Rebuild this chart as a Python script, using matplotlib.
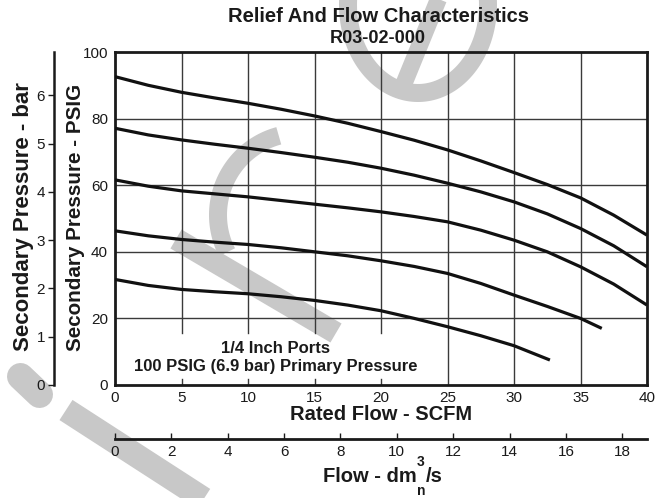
import matplotlib
matplotlib.use('Agg')
import matplotlib.pyplot as plt
import numpy as np

plt.rcParams['font.family'] = ['Liberation Sans', 'DejaVu Sans']

# ---------------- data ----------------
title = 'Relief And Flow Characteristics'
subtitle = 'R03-02-000'
x_label = 'Rated Flow - SCFM'
x2_label_main = 'Flow - dm'
x2_label_sup = '3'
x2_label_sub = 'n'
x2_label_tail = '/s'
y_label = 'Secondary Pressure - PSIG'
y2_label = 'Secondary Pressure - bar'
note_lines = ['1/4 Inch Ports', '100 PSIG (6.9 bar) Primary Pressure']

x_ticks = [0, 5, 10, 15, 20, 25, 30, 35, 40]
y_ticks = [0, 20, 40, 60, 80, 100]
bar_ticks = [0, 1, 2, 3, 4, 5, 6]
dm3_ticks = [0, 2, 4, 6, 8, 10, 12, 14, 16, 18]
psi_per_bar = 14.5038
dm3s_per_scfm = 0.4719

flow_a = [0, 2.5, 5, 7.5, 10, 12.5, 15, 17.5, 20, 22.5, 25, 27.5, 30, 32.5, 35, 37.5, 40]
curve1 = [92.6, 90.0, 87.9, 86.2, 84.6, 82.8, 80.8, 78.6, 76.1, 73.5, 70.6, 67.3, 63.8, 60.2, 56.2, 51.0, 45.0]
curve2 = [77.1, 75.1, 73.6, 72.3, 71.1, 69.8, 68.4, 66.9, 65.1, 63.0, 60.6, 58.0, 55.0, 51.4, 47.0, 41.8, 35.5]
curve3 = [61.6, 59.7, 58.3, 57.4, 56.5, 55.4, 54.3, 53.2, 52.0, 50.6, 49.0, 46.5, 43.5, 40.0, 35.5, 30.3, 24.0]

flow_b = [0, 2.5, 5, 7.5, 10, 12.5, 15, 17.5, 20, 22.5, 25, 27.5, 30, 32.5, 35, 36.6]
curve4 = [46.3, 44.8, 43.7, 42.9, 42.2, 41.2, 40.0, 38.8, 37.3, 35.6, 33.5, 30.5, 27.0, 23.6, 20.0, 17.0]

flow_c = [0, 2.5, 5, 7.5, 10, 12.5, 15, 17.5, 20, 22.5, 25, 27.5, 30, 32.7]
curve5 = [31.7, 29.9, 28.7, 28.0, 27.4, 26.5, 25.4, 24.0, 22.3, 20.0, 17.5, 14.8, 11.8, 7.5]

# ---------------- figure ----------------
W, H = 662, 498
fig = plt.figure(figsize=(W / 100, H / 100), dpi=100)
fig.patch.set_facecolor('white')
ink = '#1a1a1a'


def fx(px):
    return px / W


def fy(py):
    return 1 - py / H


PX = 0.72  # points per pixel

# decorative gray watermark (pixel space, behind everything)
wm = fig.add_axes([0, 0, 1, 1], zorder=-1)
wm.set_xlim(0, W)
wm.set_ylim(H, 0)
wm.axis('off')
gray = '#c8c8c8'
t = np.radians(np.linspace(-40, 195, 120))
wm.plot(418 + 70 * np.cos(t), 5 + 88 * np.sin(t), color=gray, lw=18 * PX, solid_capstyle='butt')
wm.plot([403, 443], [86, -12], color=gray, lw=17 * PX, solid_capstyle='butt')
a = np.radians(np.linspace(105, 207, 60))
wm.plot(300 + 82 * np.cos(a), 215 - 82 * np.sin(a), color=gray, lw=18 * PX, solid_capstyle='butt')
wm.plot([176, 336], [239, 333], color=gray, lw=22 * PX, solid_capstyle='butt')
wm.plot([66, 230], [410, 516], color=gray, lw=24 * PX, solid_capstyle='butt')
wm.plot([20.5, 39.5], [376.5, 394.5], color=gray, lw=27 * PX, solid_capstyle='round')

# main axes
ax_l, ax_r, ax_t, ax_b = 115, 647, 52, 385
ax = fig.add_axes([fx(ax_l), fy(ax_b), fx(ax_r) - fx(ax_l), fy(ax_t) - fy(ax_b)], zorder=1)
ax.set_facecolor('none')
ax.set_xlim(x_ticks[0], x_ticks[-1])
ax.set_ylim(y_ticks[0], y_ticks[-1])
ax.set_xticks(x_ticks)
ax.set_yticks(y_ticks)
ax.tick_params(length=0, labelsize=11, colors=ink)
ax.tick_params(axis='x', pad=4)
ax.tick_params(axis='y', pad=5)
for s in ax.spines.values():
    s.set_linewidth(2.0)
    s.set_color(ink)

grid_c = '#3a3a3a'
for yv in y_ticks[1:-1]:
    ax.axhline(yv, color=grid_c, lw=1.0, zorder=1)
gap_lo, gap_hi = 1.8, 15.6
for xv in x_ticks[1:-1]:
    if xv <= 20:
        ax.plot([xv, xv], [gap_hi, 100], color=grid_c, lw=1.0, zorder=1)
        ax.plot([xv, xv], [0, gap_lo], color=grid_c, lw=1.0, zorder=1)
    else:
        ax.axvline(xv, color=grid_c, lw=1.0, zorder=1)

for xs, ys in [(flow_a, curve1), (flow_a, curve2), (flow_a, curve3), (flow_b, curve4), (flow_c, curve5)]:
    ax.plot(xs, ys, color='#111111', lw=2.3, solid_capstyle='butt', zorder=3)

ax.text(12.1, 11.1, note_lines[0], ha='center', va='center', fontsize=12, fontweight='bold', color=ink)
ax.text(12.1, 5.7, note_lines[1], ha='center', va='center', fontsize=12, fontweight='bold', color=ink)

# bar axis
bax = fig.add_axes([fx(54), fy(ax_b), 0.0005, fy(ax_t) - fy(ax_b)], zorder=1)
bax.set_facecolor('none')
for k in ['top', 'right', 'bottom']:
    bax.spines[k].set_visible(False)
bax.spines['left'].set_linewidth(1.8)
bax.spines['left'].set_color(ink)
bax.set_ylim(0, y_ticks[-1] / psi_per_bar)
bax.set_yticks(bar_ticks)
bax.set_xticks([])
bax.tick_params(axis='y', direction='out', length=4.5, width=1.0, pad=2, labelsize=11, colors=ink)

# dm3/s axis
dax = fig.add_axes([fx(ax_l), fy(439), fx(ax_r) - fx(ax_l), 0.0005], zorder=1)
dax.set_facecolor('none')
for k in ['top', 'right', 'left']:
    dax.spines[k].set_visible(False)
dax.spines['bottom'].set_linewidth(2.0)
dax.spines['bottom'].set_color(ink)
dax.set_xlim(0, x_ticks[-1] * dm3s_per_scfm)
dax.set_xticks(dm3_ticks)
dax.set_yticks([])
dax.tick_params(axis='x', direction='in', length=4.5, width=1.0, pad=4, labelsize=11, colors=ink)

# texts
bold = dict(fontweight='bold', color=ink)
fig.text(fx(378), fy(16), title, ha='center', va='center', fontsize=14.5, **bold)
fig.text(fx(378), fy(38), subtitle, ha='center', va='center', fontsize=13, **bold)
fig.text(fx(381), fy(414), x_label, ha='center', va='center', fontsize=14.5, **bold)
fig.text(fx(76), fy(217), y_label, ha='center', va='center', rotation=90, fontsize=14.9, **bold)
fig.text(fx(24), fy(217), y2_label, ha='center', va='center', rotation=90, fontsize=16, **bold)

# "Flow - dm3/s" with stacked superscript 3 and subscript n
renderer = fig.canvas.get_renderer()
lab_fs = 14.5
script_fs = 10


def text_width(s, fs):
    tt = fig.text(0, 0, s, fontsize=fs, fontweight='bold')
    w = tt.get_window_extent(renderer).width
    tt.remove()
    return w


w_main = text_width(x2_label_main, lab_fs)
w_tail = text_width(x2_label_tail, lab_fs)
w_col = text_width(x2_label_sub, script_fs)
x0 = 383 - (w_main + w_col + w_tail) / 2
base = 482
fig.text(fx(x0), fy(base), x2_label_main, ha='left', va='baseline', fontsize=lab_fs, **bold)
fig.text(fx(x0 + w_main), fy(466), x2_label_sup, ha='left', va='baseline', fontsize=script_fs, **bold)
fig.text(fx(x0 + w_main), fy(495), x2_label_sub, ha='left', va='baseline', fontsize=script_fs, **bold)
fig.text(fx(x0 + w_main + w_col), fy(base), x2_label_tail, ha='left', va='baseline', fontsize=lab_fs, **bold)

fig.savefig('out.png', dpi=100, facecolor='white')
